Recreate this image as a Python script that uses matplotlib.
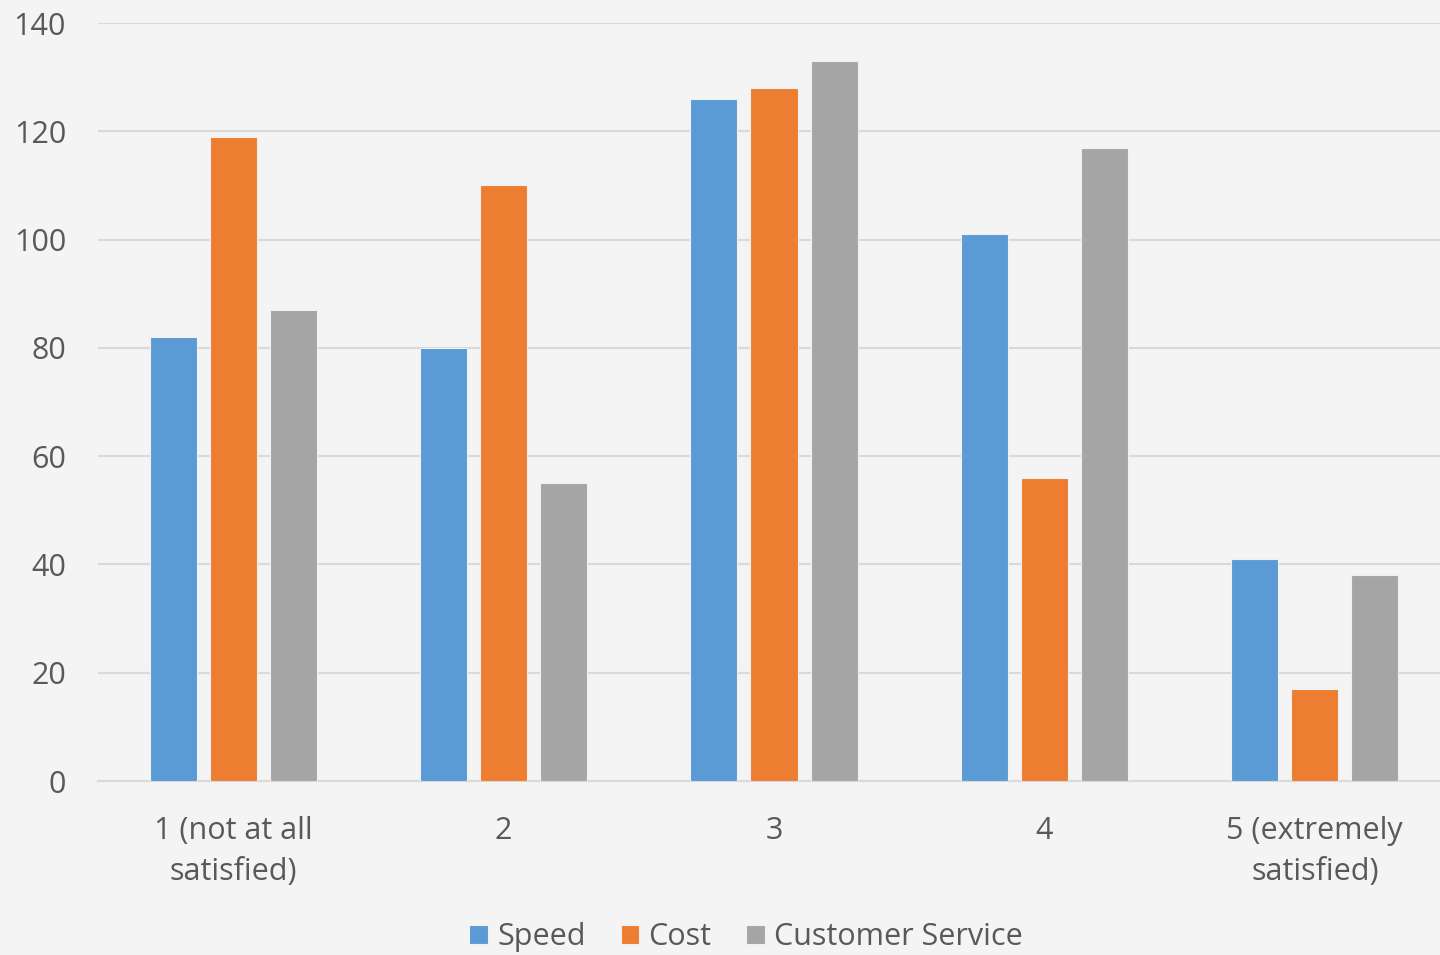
import numpy as np
import matplotlib.pyplot as plt

categories = ["1 (not at all\nsatisfied)", "2", "3", "4", "5 (extremely\nsatisfied)"]
speed = [82, 80, 126, 101, 41]
cost = [119, 110, 128, 56, 17]
customer_service = [87, 55, 133, 117, 38]

series = [("Speed", speed, "#5b9bd5"),
          ("Cost", cost, "#ed7d31"),
          ("Customer Service", customer_service, "#a5a5a5")]

plt.rcParams['font.family'] = ['Open Sans', 'DejaVu Sans']
text_color = "#595959"
bg = "#f4f4f4"

fig = plt.figure(figsize=(14.4, 9.55), dpi=100, facecolor=bg)
ax = fig.add_axes([98 / 1440, 174 / 955, 1352 / 1440, 758 / 955], facecolor=bg)

x = np.arange(len(categories))
width = 0.174
step = 0.222
for i, (name, vals, color) in enumerate(series):
    ax.bar(x + (i - 1) * step, vals, width, color=color, label=name,
           edgecolor="#f0f0f0", linewidth=0.8, zorder=3)

ax.set_xlim(-0.5, len(categories) - 0.5)
ax.set_ylim(0, 140)
ax.set_yticks(range(0, 141, 20))
ax.yaxis.grid(True, color="#d9d9d9", linewidth=1.5, zorder=0)
ax.set_axisbelow(True)

for s in ["top", "right", "left"]:
    ax.spines[s].set_visible(False)
ax.spines["bottom"].set_color("#d9d9d9")
ax.spines["bottom"].set_linewidth(1.5)

ax.set_xticks(x)
ax.set_xticklabels(categories, linespacing=1.5)
ax.tick_params(axis="both", length=0, labelsize=22, labelcolor=text_color)
ax.tick_params(axis="y", pad=23)
ax.tick_params(axis="x", pad=25)

leg = fig.legend(loc="center", bbox_to_anchor=(746 / 1440, 1 - 937 / 955), ncol=3,
                 frameon=False, fontsize=22, handlelength=0.6, handleheight=0.6,
                 handletextpad=0.3, columnspacing=1.15, borderaxespad=0)
for t in leg.get_texts():
    t.set_color(text_color)

fig.savefig("out.png", dpi=100, facecolor=bg)
